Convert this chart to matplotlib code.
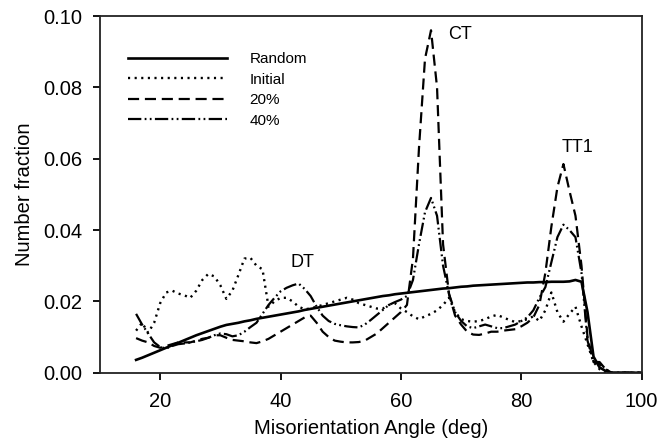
import matplotlib
matplotlib.use("Agg")
import matplotlib.pyplot as plt
from matplotlib.ticker import FormatStrFormatter, MultipleLocator

plt.rcParams['font.family'] = ['Liberation Sans', 'DejaVu Sans']

angle = list(range(16, 101))

random_frac = [0.0036, 0.0042, 0.0049, 0.0056, 0.0063, 0.0070, 0.0077, 0.0084, 0.0091, 0.0098,
               0.0105, 0.0111, 0.0117, 0.0123, 0.0129, 0.0134, 0.0137, 0.0140, 0.0144, 0.0147,
               0.0151, 0.0154, 0.0157, 0.0160, 0.0163, 0.0166, 0.0169, 0.0172, 0.0176, 0.0179,
               0.0182, 0.0185, 0.0188, 0.0191, 0.0194, 0.0197, 0.0200, 0.0203, 0.0206, 0.0209,
               0.0212, 0.0215, 0.0217, 0.0220, 0.0222, 0.0224, 0.0226, 0.0228, 0.0230, 0.0232,
               0.0234, 0.0236, 0.0237, 0.0239, 0.0241, 0.0242, 0.0244, 0.0245, 0.0246, 0.0247,
               0.0248, 0.0249, 0.0250, 0.0251, 0.0252, 0.0253, 0.0253, 0.0254, 0.0254, 0.0255,
               0.0255, 0.0255, 0.0256, 0.0260, 0.0255, 0.0170, 0.0045, 0.0015, 0.0005, 0.0,
               0.0, 0.0, 0.0, 0.0, 0.0]

initial_frac = [0.0118, 0.0140, 0.0112, 0.0140, 0.0195, 0.0225, 0.0230, 0.0222, 0.0217, 0.0210,
                0.0230, 0.0260, 0.0277, 0.0270, 0.0245, 0.0207, 0.0230, 0.0274, 0.0320, 0.0322,
                0.0300, 0.0290, 0.0185, 0.0200, 0.0210, 0.0210, 0.0200, 0.0185, 0.0178, 0.0180,
                0.0185, 0.0190, 0.0195, 0.0200, 0.0205, 0.0210, 0.0205, 0.0195, 0.0190, 0.0185,
                0.0180, 0.0180, 0.0190, 0.0195, 0.0180, 0.0170, 0.0158, 0.0150, 0.0158, 0.0165,
                0.0175, 0.0190, 0.0210, 0.0170, 0.0150, 0.0145, 0.0143, 0.0145, 0.0150, 0.0158,
                0.0162, 0.0155, 0.0148, 0.0142, 0.0145, 0.0150, 0.0158, 0.0145, 0.0175, 0.0225,
                0.0170, 0.0143, 0.0165, 0.0185, 0.0130, 0.0080, 0.0030, 0.0010, 0.0, 0.0,
                0.0, 0.0, 0.0, 0.0, 0.0]

frac_20 = [0.0097, 0.0090, 0.0085, 0.0075, 0.0070, 0.0075, 0.0080, 0.0085, 0.0085, 0.0085,
           0.0090, 0.0095, 0.0098, 0.0105, 0.0105, 0.0098, 0.0092, 0.0090, 0.0088, 0.0085,
           0.0083, 0.0088, 0.0095, 0.0105, 0.0115, 0.0125, 0.0135, 0.0145, 0.0155, 0.0160,
           0.0140, 0.0115, 0.0100, 0.0090, 0.0087, 0.0085, 0.0085, 0.0086, 0.0090, 0.0100,
           0.0110, 0.0125, 0.0140, 0.0155, 0.0170, 0.0190, 0.0320, 0.0630, 0.0880, 0.0960,
           0.0800, 0.0360, 0.0220, 0.0160, 0.0135, 0.0115, 0.0107, 0.0106, 0.0110, 0.0115,
           0.0115, 0.0118, 0.0120, 0.0122, 0.0130, 0.0140, 0.0155, 0.0190, 0.0280, 0.0410,
           0.0520, 0.0585, 0.0510, 0.0440, 0.0300, 0.0100, 0.0030, 0.0025, 0.0010, 0.0,
           0.0, 0.0, 0.0, 0.0, 0.0]

frac_40 = [0.0165, 0.0135, 0.0110, 0.0085, 0.0072, 0.0068, 0.0075, 0.0080, 0.0082, 0.0085,
           0.0088, 0.0092, 0.0098, 0.0105, 0.0110, 0.0108, 0.0102, 0.0105, 0.0115, 0.0128,
           0.0140, 0.0165, 0.0190, 0.0210, 0.0228, 0.0238, 0.0245, 0.0250, 0.0235, 0.0215,
           0.0185, 0.0160, 0.0145, 0.0137, 0.0133, 0.0130, 0.0128, 0.0127, 0.0135, 0.0148,
           0.0162, 0.0176, 0.0190, 0.0198, 0.0205, 0.0215, 0.0260, 0.0360, 0.0450, 0.0490,
           0.0440, 0.0300, 0.0220, 0.0170, 0.0145, 0.0130, 0.0125, 0.0130, 0.0135, 0.0130,
           0.0125, 0.0125, 0.0130, 0.0135, 0.0145, 0.0155, 0.0175, 0.0210, 0.0240, 0.0310,
           0.0380, 0.0415, 0.0400, 0.0380, 0.0280, 0.0090, 0.0030, 0.0030, 0.0010, 0.0,
           0.0, 0.0, 0.0, 0.0, 0.0]

labels = ["Random", "Initial", "20%", "40%"]
peak_labels = ["CT", "TT1", "DT"]
peak_pos = [(67.8, 0.0947), (86.7, 0.063), (41.7, 0.0308)]

fig = plt.figure(figsize=(6.71, 4.46), dpi=100)
ax = fig.add_axes([0.149, 0.1643, 0.8073, 0.7998])

lw = 1.6
ax.plot(angle, random_frac, color='black', lw=1.9, ls='-', label=labels[0])
ax.plot(angle, initial_frac, color='black', lw=1.7, ls=(0, (0.9, 1.9)), label=labels[1])
ax.plot(angle, frac_20, color='black', lw=lw, ls=(0, (5.0, 2.6)), label=labels[2])
ax.plot(angle, frac_40, color='black', lw=lw, ls=(0, (6.0, 1.5, 0.8, 1.5, 0.8, 1.5)), label=labels[3])

for t, (x, y) in zip(peak_labels, peak_pos):
    ax.text(x, y, t, fontsize=13, va='center', ha='left')

ax.set_xlim(10, 100)
ax.set_ylim(0, 0.10)
ax.yaxis.set_major_locator(MultipleLocator(0.02))
ax.yaxis.set_major_formatter(FormatStrFormatter('%.2f'))
ax.set_xticks([20, 40, 60, 80, 100])

ax.tick_params(axis='both', direction='out', length=5, width=1.3, labelsize=14.5,
               top=False, right=False)
ax.tick_params(axis='x', pad=9)
ax.tick_params(axis='y', pad=8)
for s in ax.spines.values():
    s.set_linewidth(1.3)
    s.set_color('#222222')

ax.set_xlabel("Misorientation Angle (deg)", fontsize=14.5, labelpad=6)
ax.set_ylabel("Number fraction", fontsize=14.5, labelpad=6)

leg = ax.legend(loc='upper left', bbox_to_anchor=(0.052, 0.898), frameon=False,
                fontsize=11, handlelength=6.5, handletextpad=1.45, labelspacing=0.42,
                borderaxespad=0, borderpad=0)

fig.savefig("out.png", dpi=100)
